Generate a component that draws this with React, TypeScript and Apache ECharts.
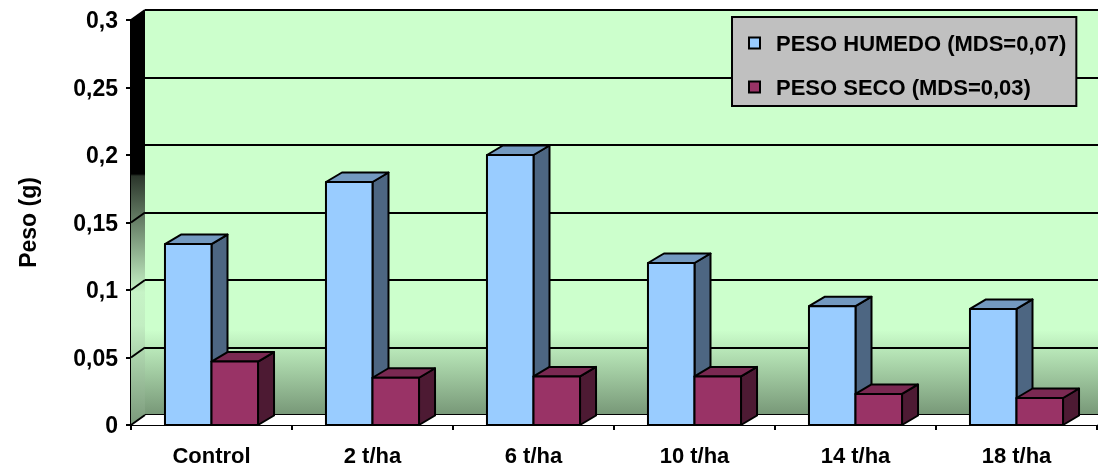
import React, { useEffect, useRef } from "react";
import * as echarts from "echarts";

const categories = ["Control", "2 t/ha", "6 t/ha", "10 t/ha", "14 t/ha", "18 t/ha"];
const pesoHumedo = [0.134, 0.18, 0.2, 0.12, 0.088, 0.086];
const pesoSeco = [0.047, 0.035, 0.036, 0.036, 0.023, 0.02];
const yTicks = [0, 0.05, 0.1, 0.15, 0.2, 0.25, 0.3];
const seriesNames = ["PESO HUMEDO (MDS=0,07)", "PESO SECO (MDS=0,03)"];
const yAxisTitle = "Peso (g)";

const FONT = "'Liberation Sans', Arial, sans-serif";
const WALL_DX = 14;
const WALL_DY = -10;
const BAR_DX = 16;
const BAR_DY = -9.5;
const BAR_FRAC = 0.289;

const blueFaces = { front: "#99CCFF", top: "#7399C0", side: "#4D6682" };
const maroonFaces = { front: "#993366", top: "#7A2952", side: "#4D1A33" };

function makeBarRender(faces: { front: string; top: string; side: string }, left: boolean) {
  return (params: any, api: any) => {
    const i = api.value(0);
    const v = api.value(1);
    const top = api.coord([i, v]);
    const base = api.coord([i, 0]);
    const band = api.size([1, 0])[0];
    const w = band * BAR_FRAC;
    const x0 = left ? top[0] - w : top[0];
    const x1 = x0 + w;
    const ty = top[1];
    const by = base[1];
    const stroke = { stroke: "#000", lineWidth: 2, lineJoin: "round" };
    return {
      type: "group",
      children: [
        {
          type: "polygon",
          shape: { points: [[x1, ty], [x1 + BAR_DX, ty + BAR_DY], [x1 + BAR_DX, by + BAR_DY], [x1, by]] },
          style: { fill: faces.side, ...stroke },
        },
        {
          type: "polygon",
          shape: { points: [[x0, ty], [x1, ty], [x1 + BAR_DX, ty + BAR_DY], [x0 + BAR_DX, ty + BAR_DY]] },
          style: { fill: faces.top, ...stroke },
        },
        {
          type: "rect",
          shape: { x: x0, y: ty, width: w, height: by - ty },
          style: { fill: faces.front, ...stroke },
        },
      ],
    };
  };
}

function wallRender(params: any, api: any) {
  const v = api.value(1);
  const band = api.size([1, 0])[0];
  const leftX = api.coord([0, 0])[0] - band / 2;
  const rightX = api.coord([categories.length - 1, 0])[0] + band / 2;
  const y = api.coord([0, v])[1];
  const y0 = api.coord([0, 0])[1];
  const yTop = api.coord([0, yTicks[yTicks.length - 1]])[1];
  const children: any[] = [];
  if (params.dataIndex === 0) {
    children.push({
      type: "polygon",
      shape: {
        points: [[leftX, yTop], [leftX + WALL_DX, yTop + WALL_DY], [leftX + WALL_DX, y0 + WALL_DY], [leftX, y0]],
      },
      style: {
        fill: new echarts.graphic.LinearGradient(0, 0, 0, 1, [
          { offset: 0, color: "#000000" },
          { offset: 0.395, color: "#000000" },
          { offset: 0.4, color: "#2b362b" },
          { offset: 0.68, color: "#c6f3c6" },
          { offset: 0.76, color: "#c2eec2" },
          { offset: 1, color: "#7a987a" },
        ]),
      },
    });
    children.push({
      type: "polygon",
      shape: {
        points: [[leftX, y0], [rightX, y0], [rightX + WALL_DX, y0 + WALL_DY], [leftX + WALL_DX, y0 + WALL_DY]],
      },
      style: { fill: "#ffffff" },
    });
  }
  children.push({
    type: "line",
    shape: { x1: leftX, y1: y, x2: leftX + WALL_DX, y2: y + WALL_DY },
    style: { stroke: "#000", lineWidth: 2 },
  });
  return { type: "group", children };
}

export default function App() {
  const ref = useRef<HTMLDivElement>(null);
  useEffect(() => {
    if (!ref.current) return;
    const chart = echarts.init(ref.current, undefined, { renderer: "svg" });
    const yMax = yTicks[yTicks.length - 1];
    const interval = yTicks[1] - yTicks[0];
    chart.setOption({
      animation: false,
      textStyle: { fontFamily: FONT },
      grid: [
        { left: 131, right: 1, top: 20, bottom: 46, show: false },
        {
          left: 131 + WALL_DX,
          right: 1 - WALL_DX,
          top: 20 + WALL_DY,
          bottom: 46 - WALL_DY,
          show: true,
          borderWidth: 0,
          backgroundColor: new echarts.graphic.LinearGradient(0, 0, 0, 1, [
            { offset: 0, color: "#CCFFCC" },
            { offset: 0.79, color: "#CCFFCC" },
            { offset: 1, color: "#779777" },
          ]),
        },
      ],
      legend: {
        orient: "vertical",
        left: 732,
        top: 17,
        data: seriesNames,
        backgroundColor: "#C0C0C0",
        borderColor: "#000",
        borderWidth: 2,
        borderRadius: 0,
        padding: [15, 10, 8, 16],
        itemGap: 22,
        itemWidth: 11,
        itemHeight: 11,
        icon: "rect",
        itemStyle: { borderColor: "#000", borderWidth: 2 },
        textStyle: {
          fontFamily: FONT,
          fontWeight: "bold",
          fontSize: 22,
          color: "#000",
          padding: [0, 0, 0, 11],
        },
        selectedMode: false,
      },
      xAxis: [
        {
          type: "category",
          gridIndex: 0,
          data: categories,
          axisLine: { lineStyle: { color: "#000", width: 2 } },
          axisTick: { show: true, length: 5, lineStyle: { color: "#000", width: 2 } },
          axisLabel: { color: "#000", fontFamily: FONT, fontWeight: "bold", fontSize: 22, margin: 19 },
          splitLine: { show: false },
        },
        { type: "value", gridIndex: 1, show: false, min: 0, max: 1 },
      ],
      yAxis: [
        {
          type: "value",
          gridIndex: 0,
          min: 0,
          max: yMax,
          interval,
          name: yAxisTitle,
          nameLocation: "middle",
          nameRotate: 90,
          nameGap: 92,
          nameTextStyle: { color: "#000", fontFamily: FONT, fontWeight: "bold", fontSize: 23 },
          axisLine: { show: true, lineStyle: { color: "#000", width: 2 } },
          axisTick: { show: true, length: 5, lineStyle: { color: "#000", width: 2 } },
          axisLabel: {
            color: "#000",
            fontFamily: FONT,
            fontWeight: "bold",
            fontSize: 23,
            margin: 13,
            formatter: (val: number) => String(+val.toFixed(2)).replace(".", ","),
          },
          splitLine: { show: false },
        },
        {
          type: "value",
          gridIndex: 1,
          min: 0,
          max: yMax,
          interval,
          axisLine: { show: false },
          axisTick: { show: false },
          axisLabel: { show: false },
          splitLine: { show: true, lineStyle: { color: "#000", width: 2 } },
        },
      ],
      series: [
        {
          type: "custom",
          name: "walls",
          xAxisIndex: 0,
          yAxisIndex: 0,
          z: 1,
          silent: true,
          renderItem: wallRender,
          data: yTicks.map((t) => [0, t]),
        },
        {
          type: "custom",
          name: seriesNames[0],
          xAxisIndex: 0,
          yAxisIndex: 0,
          z: 3,
          itemStyle: { color: blueFaces.front },
          renderItem: makeBarRender(blueFaces, true),
          data: pesoHumedo.map((v, i) => [i, v]),
        },
        {
          type: "custom",
          name: seriesNames[1],
          xAxisIndex: 0,
          yAxisIndex: 0,
          z: 4,
          itemStyle: { color: maroonFaces.front },
          renderItem: makeBarRender(maroonFaces, false),
          data: pesoSeco.map((v, i) => [i, v]),
        },
      ],
    });
    return () => chart.dispose();
  }, []);
  return <div ref={ref} style={{ position: "fixed", left: 0, top: 0, width: 1098, height: 471 }} />;
}
